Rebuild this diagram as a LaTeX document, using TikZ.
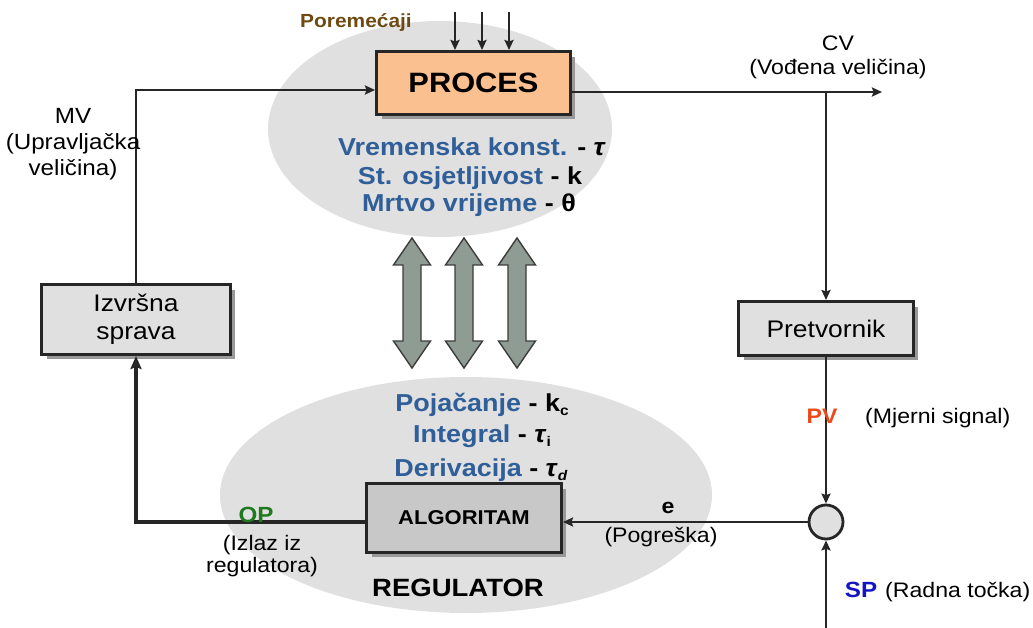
\documentclass[tikz,border=0pt]{standalone}
\usepackage{fontspec}
\setmainfont{Liberation Sans}[FakeStretch=1.1]
\usetikzlibrary{arrows.meta,shadows,calc}
\definecolor{ellgray}{HTML}{E0E0E0}
\definecolor{procfill}{HTML}{FAC08F}
\definecolor{boxfill}{HTML}{E0E0E0}
\definecolor{algfill}{HTML}{C8C8C8}
\definecolor{linecol}{HTML}{262626}
\definecolor{pblue}{HTML}{2F5E98}
\definecolor{pvcol}{HTML}{E84A1B}
\definecolor{spcol}{HTML}{1414C0}
\definecolor{opcol}{HTML}{1E7A1E}
\definecolor{porcol}{HTML}{6E4A12}
\definecolor{dblfill}{HTML}{8F9C94}
\definecolor{dbldraw}{HTML}{3C3C3C}
\newcommand{\fsz}[2]{\fontsize{#1}{#2}\selectfont}
\newcommand{\subx}[1]{\raisebox{-0.35ex}{\fontsize{14}{14}\selectfont #1}}
\begin{document}
\begin{tikzpicture}[x=1pt,y=-1pt,
  blk/.style={draw=linecol, line width=3.4pt, inner sep=0pt,
    drop shadow={shadow xshift=5pt, shadow yshift=-5pt, fill=black!40, opacity=1}},
  conn/.style={draw=linecol, line width=2.8pt, -{Stealth[length=10pt,width=9pt,inset=1.5pt]}},
  lbl/.style={inner sep=0pt, text=black},
  param/.style={inner sep=0pt, anchor=base, font=\fsz{24.5}{28}\bfseries},
  dbl/.style={fill=dblfill, draw=dbldraw, line width=1.4pt, line join=miter}
]
\useasboundingbox (0,0) rectangle (1033,628);

% background ellipses
\fill[ellgray] (440,129) ellipse [x radius=172, y radius=108];
\fill[ellgray] (466,495) ellipse [x radius=246, y radius=118];

% double arrows
\foreach \cx in {412,464,517}{
  \draw[dbl] (\cx,238) -- (\cx+18.5,265) -- (\cx+9,265) -- (\cx+9,341) -- (\cx+18.5,341)
    -- (\cx,368) -- (\cx-18.5,341) -- (\cx-9,341) -- (\cx-9,265) -- (\cx-18.5,265) -- cycle;
}

% blocks
\node[blk, fill=procfill, minimum width=193.6pt, minimum height=62.6pt,
      font=\fsz{28}{30}\bfseries] (proc) at (473.5,83) {PROCES};
\node[blk, fill=boxfill, minimum width=188.6pt, minimum height=69.6pt,
      font=\fsz{24}{28}, align=center] (izv) at (136,319.5) {Izvršna\\sprava};
\node[blk, fill=boxfill, minimum width=174.6pt, minimum height=53.6pt,
      font=\fsz{24}{28}] (pre) at (826,328.5) {Pretvornik};
\node[blk, fill=algfill, minimum width=194.6pt, minimum height=68.6pt,
      font=\fsz{20}{22}\bfseries] (alg) at (464,518) {ALGORITAM};
\node[circle, draw=linecol, line width=2.8pt, fill=boxfill, minimum size=34pt, inner sep=0pt] (sum) at (826,522) {};

% coordinates for connectors
\coordinate (pin) at ([yshift=-7pt]proc.west);
\coordinate (pout) at ([yshift=-9pt]proc.east);
\coordinate (cvend) at (882,92);
\coordinate (br) at (826,92);
\coordinate (spin) at (826,630);
\coordinate (d1) at (455,12);
\coordinate (d2) at (482,12);
\coordinate (d3) at (509,12);

% connectors
\draw[conn] (izv.north) |- (pin);
\draw[conn] (pout) -- (cvend);
\draw[conn] (br) -- (pre.north);
\draw[conn] (pre.south) -- (sum.north);
\draw[conn] (spin) -- (sum.south);
\draw[conn] (sum.west) -- (sum.west -| alg.east);
\draw[draw=linecol, line width=3.4pt, -{Stealth[length=13pt,width=11pt,inset=2pt]}] ([yshift=-4pt]alg.west) -| (izv.south);
\foreach \d in {d1,d2,d3}{
  \draw[conn] (\d) -- (\d |- proc.north);
}

% process parameters
\node[param] (vk) at (472,156) {\textcolor{pblue}{Vremenska konst.} - \textit{τ}};
\node[param] (so) at (470,185) {\textcolor{pblue}{St. osjetljivost} - k};
\node[param] (mv) at (469,212) {\textcolor{pblue}{Mrtvo vrijeme} - θ};

% regulator parameters
\node[param] (kc) at (482,411) {\textcolor{pblue}{Pojačanje} - k\subx{c}};
\node[param] (ti) at (482,442) {\textcolor{pblue}{Integral} - \textit{τ}\subx{i}};
\node[param] (td) at (481,476) {\textcolor{pblue}{Derivacija} - \textit{τ}\subx{\textit{d}}};
\node[param, font=\fsz{25}{28}\bfseries] (reg) at (458,596) {REGULATOR};

% labels
\node[lbl, anchor=base, font=\fsz{19}{22}\bfseries, text=porcol] (por) at (356,28) {Poremećaji};
\node[lbl, align=center, font=\fsz{22}{26}] (mvl) at (73,144) {MV\\(Upravljačka\\veličina)};
\node[lbl, align=center, font=\fsz{21}{24}] (cvl) at (838,57) {CV\\(Vođena veličina)};
\node[lbl, anchor=base, font=\fsz{21}{24}\bfseries, text=pvcol] (pv) at (822,423) {PV};
\node[lbl, anchor=base west, font=\fsz{21}{24}] (pvt) at (865,423) {(Mjerni signal)};
\node[lbl, anchor=base, font=\fsz{22}{24}\bfseries, text=spcol] (sp) at (861,597) {SP};
\node[lbl, anchor=base west, font=\fsz{21}{24}] (spt) at (885,597) {(Radna točka)};
\node[lbl, anchor=base, font=\fsz{21}{24}\bfseries] (el) at (668,513) {e};
\node[lbl, anchor=base, font=\fsz{21}{24}] (pog) at (661,542) {(Pogreška)};
\node[lbl, anchor=base, font=\fsz{22}{24}\bfseries, text=opcol] (op) at (256,522) {OP};
\node[lbl, align=center, font=\fsz{21}{22}] (opt) at (262,556) {(Izlaz iz\\regulatora)};
\end{tikzpicture}
\end{document}
